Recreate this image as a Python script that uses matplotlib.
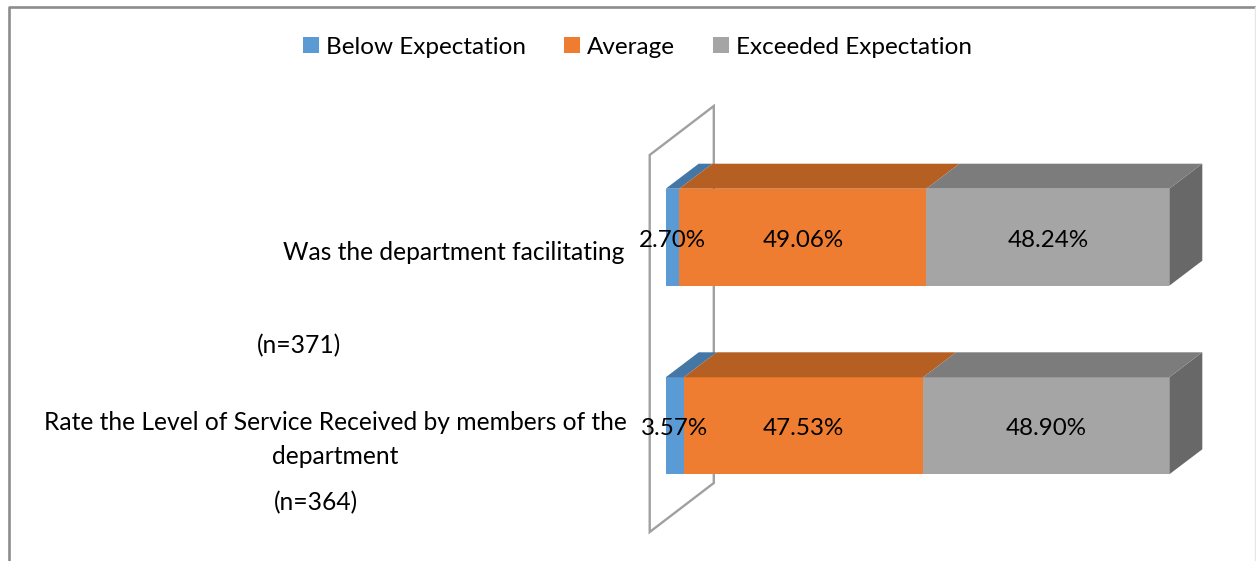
import matplotlib
matplotlib.use("Agg")
import matplotlib.pyplot as plt
from matplotlib.patches import Polygon
from matplotlib.transforms import Affine2D

# Data
categories = ["Rate the Level of Service Received by members of the department (n=364)",
              "Was the department facilitating (n=371)"]
series_names = ["Below Expectation", "Average", "Exceeded Expectation"]
below = [3.57, 2.70]
average = [47.53, 49.06]
exceeded = [48.90, 48.24]
value_labels = [["3.57%", "2.70%"], ["47.53%", "49.06%"], ["48.90%", "48.24%"]]

W, H = 1256, 561
plt.rcParams["font.family"] = ["Lato", "DejaVu Sans"]
fig = plt.figure(figsize=(W / 100, H / 100), dpi=100, facecolor="white")
px = Affine2D().scale(1, -1).translate(0, H)  # pixel coordinates, origin top left

# Axes layout
L, R, T, B = 665.7, 1169.3, 142.9, 520.1
ax = fig.add_axes([L / W, 1 - B / H, (R - L) / W, (B - T) / H])
ax.set_xlim(0, 100)
ax.set_ylim(-0.5, 1.5)
ax.axis("off")

# Chart frame
fig.add_artist(plt.Line2D([8.5, 8.5, 1256], [H, 7, 7], transform=px, color="#8c8c8c", lw=1.9))
fig.add_artist(plt.Line2D([1255, 1255], [7, H], transform=px, color="#e6e6e6", lw=1))

# Back wall (axis plane)
wall = Polygon([[649.7, 155], [713.8, 106], [713.8, 483], [649.7, 532]], closed=True,
               transform=px, fill=False, edgecolor="#a0a0a0", lw=1.7, zorder=1)
ax.add_patch(wall)
wall.set_clip_on(False)

# 3D bars
colors = ["#5B9BD5", "#EF7D31", "#A5A5A5"]
tops = ["#4477A6", "#B55F22", "#7C7C7C"]
side = "#686868"
h = 97 / 188.6
dx = 33 / (R - L) * 100
dy = 25 / 188.6
handles = []
ypos = range(len(categories))
for i, vals in enumerate([below, average, exceeded]):
    lefts = [sum(s[j] for s in [below, average, exceeded][:i]) for j in ypos]
    cont = ax.barh(list(ypos), vals, left=lefts, height=h, color=colors[i],
                   linewidth=0, zorder=3, label=series_names[i])
    handles.append(cont)
    for j in ypos:
        x0, x1 = lefts[j], lefts[j] + vals[j]
        yt = j + h / 2
        ax.add_patch(Polygon([[x0, yt], [x1, yt], [x1 + dx, yt + dy], [x0 + dx, yt + dy]],
                             closed=True, fc=tops[i], ec="none", zorder=3 + 0.1 * i, clip_on=False))
        ax.text(x0 + vals[j] / 2, j - 0.016, value_labels[i][j],
                ha="center", va="center", fontsize=17.4, color="black", zorder=6)
        if i == 2:
            yb = j - h / 2
            ax.add_patch(Polygon([[x1, yt], [x1 + dx, yt + dy], [x1 + dx, yb + dy], [x1, yb]],
                                 closed=True, fc=side, ec="none", zorder=3, clip_on=False))

# Category labels as laid out in the original
label_lines = [("Was the department facilitating", 453.5, 252.5), ("(n=371)", 299.5, 346),
               ("Rate the Level of Service Received by members of the", 335, 423),
               ("department", 335.5, 457), ("(n=364)", 315.5, 503)]
for txt, x, y in label_lines:
    fig.text(x, y, txt, transform=px, ha="center", va="center", fontsize=17.7, color="black")

# Legend
fig.legend(handles=handles, labels=series_names, loc="center", bbox_to_anchor=(637.5 / W, 1 - 47 / H),
           ncol=3, frameon=False, fontsize=17.5, handlelength=0.66, handleheight=0.66,
           handletextpad=0.25, columnspacing=1.6, borderpad=0)

fig.savefig("out.png", dpi=100, facecolor="white")
